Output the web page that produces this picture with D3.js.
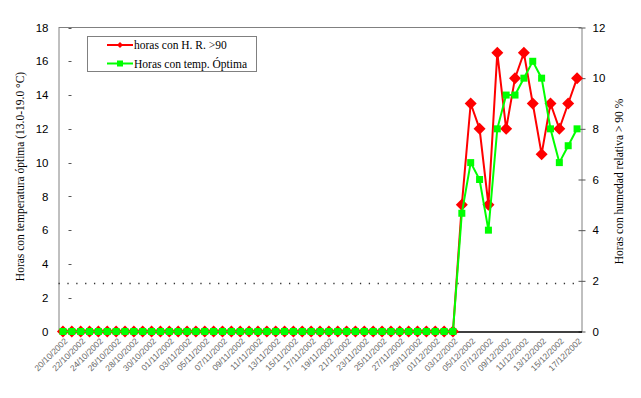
<!DOCTYPE html>
<html>
<head>
<meta charset="utf-8">
<script src="https://cdn.jsdelivr.net/npm/d3@7"></script>
<style>
  html, body { margin: 0; padding: 0; background: #fff; }
  svg { display: block; }
</style>
</head>
<body>
<svg id="chart" width="641" height="398"></svg>
<script>
// ---- data ----
const dates = [
  "20/10/2002","21/10/2002","22/10/2002","23/10/2002","24/10/2002","25/10/2002","26/10/2002","27/10/2002",
  "28/10/2002","29/10/2002","30/10/2002","31/10/2002","01/11/2002","02/11/2002","03/11/2002","04/11/2002",
  "05/11/2002","06/11/2002","07/11/2002","08/11/2002","09/11/2002","10/11/2002","11/11/2002","12/11/2002",
  "13/11/2002","14/11/2002","15/11/2002","16/11/2002","17/11/2002","18/11/2002","19/11/2002","20/11/2002",
  "21/11/2002","22/11/2002","23/11/2002","24/11/2002","25/11/2002","26/11/2002","27/11/2002","28/11/2002",
  "29/11/2002","30/11/2002","01/12/2002","02/12/2002","03/12/2002","04/12/2002","05/12/2002","06/12/2002",
  "07/12/2002","08/12/2002","09/12/2002","10/12/2002","11/12/2002","12/12/2002","13/12/2002","14/12/2002",
  "15/12/2002","16/12/2002","17/12/2002"
];
// Horas con H.R. > 90 (right axis)
const hrValues = [
  0,0,0,0,0,0,0,0,0,0,0,0,0,0,0,0,0,0,0,0,0,0,0,0,0,0,0,0,0,0,0,0,0,0,0,0,0,0,0,0,0,0,0,0,0,
  5,9,8,5,11,8,10,11,9,7,9,8,9,10
];
// Horas con temperatura óptima (left axis)
const tempValues = [
  0,0,0,0,0,0,0,0,0,0,0,0,0,0,0,0,0,0,0,0,0,0,0,0,0,0,0,0,0,0,0,0,0,0,0,0,0,0,0,0,0,0,0,0,0,
  7,10,9,6,12,14,14,15,16,15,12,10,11,12
];
const leftTicks = [0,2,4,6,8,10,12,14,16,18];
const rightTicks = [0,2,4,6,8,10,12];
const referenceLevel = 2.85; // dotted reference line (left axis units)
const seriesNames = ["horas con H. R. >90", "Horas con temp. Óptima"];
const leftTitle = "Horas con temperatura óptima (13.0-19.0 °C)";
const rightTitle = "Horas con humedad relativa > 90 %";

// ---- layout ----
const svg = d3.select("#chart");
const L = 58.5, R = 581.5, T = 27.5, B = 331.5;
const x = d3.scaleBand().domain(dates).range([L, R]).padding(0);
const cx = d => x(d) + x.bandwidth() / 2;
const yL = d3.scaleLinear().domain([0, 18]).range([B, T]);
const yR = d3.scaleLinear().domain([0, 12]).range([B, T]);
const RED = "#ff0000", GREEN = "#00ff00", GRAY = "#808080";
const numFont = "'Liberation Sans', Arial, sans-serif";
const serif = "'Liberation Serif', 'Times New Roman', serif";

svg.append("rect").attr("width", 641).attr("height", 398).attr("fill", "#fff");

// frame: top border
svg.append("line").attr("x1", L).attr("x2", R).attr("y1", T).attr("y2", T)
  .attr("stroke", GRAY).attr("stroke-width", 1);

// left axis
const leftAxis = svg.append("g").attr("transform", `translate(${L},0)`)
  .call(d3.axisLeft(yL).tickValues(leftTicks).tickSize(0).tickPadding(10).tickFormat(d3.format("d")));
leftAxis.select(".domain").attr("stroke", GRAY);
leftAxis.selectAll("text").attr("font-family", numFont).attr("font-size", 11.5).attr("fill", "#000");
// small detached tick dashes of the left axis
svg.append("g").selectAll("line").data(leftTicks).join("line")
  .attr("x1", L + 10).attr("x2", L + 13)
  .attr("y1", d => Math.round(yL(d)) + 0.5).attr("y2", d => Math.round(yL(d)) + 0.5)
  .attr("stroke", "#555").attr("stroke-width", 1);

// right axis
const rightAxis = svg.append("g").attr("transform", `translate(${R},0)`)
  .call(d3.axisRight(yR).tickValues(rightTicks).tickSizeInner(4).tickSizeOuter(0).tickPadding(7).tickFormat(d3.format("d")));
rightAxis.select(".domain").attr("stroke", GRAY);
rightAxis.selectAll(".tick line").attr("stroke", "#555").attr("x1", -3);
rightAxis.selectAll("text").attr("font-family", numFont).attr("font-size", 11.5).attr("fill", "#000");

// dotted reference line
svg.append("line")
  .attr("x1", L).attr("x2", R)
  .attr("y1", Math.round(yL(referenceLevel)) + 0.5).attr("y2", Math.round(yL(referenceLevel)) + 0.5)
  .attr("stroke", "#333").attr("stroke-width", 1.3)
  .attr("stroke-dasharray", `1.3,${x.bandwidth() - 1.3}`);

// bottom axis (black)
const bottomAxis = svg.append("g").attr("transform", `translate(0,${B})`)
  .call(d3.axisBottom(x).tickValues(dates.filter((d, i) => i % 2 === 0)).tickSize(0).tickPadding(0));
bottomAxis.select(".domain").attr("stroke", "#000").attr("stroke-width", 1.3);
bottomAxis.selectAll("text")
  .attr("font-family", numFont).attr("font-size", 8.5).attr("fill", "#666")
  .attr("text-anchor", "end")
  .attr("transform", "translate(3,8) rotate(-45)")
  .attr("dy", "0.35em").attr("y", 0).attr("x", 0);

// series lines
const lineR = d3.line().x((d, i) => cx(dates[i])).y(d => yR(d));
const lineL = d3.line().x((d, i) => cx(dates[i])).y(d => yL(d));

svg.append("path").datum(hrValues).attr("d", lineR)
  .attr("fill", "none").attr("stroke", RED).attr("stroke-width", 2);
const diamond = s => `M0,${-s}L${s},0L0,${s}L${-s},0Z`;
svg.append("g").selectAll("path").data(hrValues).join("path")
  .attr("transform", (d, i) => `translate(${cx(dates[i])},${yR(d)})`)
  .attr("d", diamond(6)).attr("fill", RED);

svg.append("path").datum(tempValues).attr("d", lineL)
  .attr("fill", "none").attr("stroke", GREEN).attr("stroke-width", 2);
svg.append("g").selectAll("rect").data(tempValues).join("rect")
  .attr("x", (d, i) => cx(dates[i]) - 3.5).attr("y", d => yL(d) - 3.5)
  .attr("width", 7).attr("height", 7).attr("fill", GREEN);

// axis titles
svg.append("text").attr("transform", `translate(24,${(T + B) / 2 - 3}) rotate(-90)`)
  .attr("text-anchor", "middle").attr("font-family", serif).attr("font-size", 11.5)
  .text(leftTitle);
svg.append("text").attr("transform", `translate(623,${(T + B) / 2 + 2}) rotate(-90)`)
  .attr("text-anchor", "middle").attr("font-family", serif).attr("font-size", 11.5)
  .text(rightTitle);

// legend
const lg = svg.append("g");
lg.append("rect").attr("x", 87.5).attr("y", 36.5).attr("width", 169).attr("height", 35)
  .attr("fill", "#fff").attr("stroke", GRAY).attr("stroke-width", 1);
const legendY = [45, 63.5];
lg.append("line").attr("x1", 107).attr("x2", 133).attr("y1", legendY[0]).attr("y2", legendY[0])
  .attr("stroke", RED).attr("stroke-width", 2);
lg.append("path").attr("transform", `translate(120,${legendY[0]})`).attr("d", diamond(3)).attr("fill", RED);
lg.append("line").attr("x1", 107).attr("x2", 133).attr("y1", legendY[1]).attr("y2", legendY[1])
  .attr("stroke", GREEN).attr("stroke-width", 2);
lg.append("rect").attr("x", 117).attr("y", legendY[1] - 3).attr("width", 6).attr("height", 6).attr("fill", GREEN);
lg.selectAll("text").data(seriesNames).join("text")
  .attr("x", 134).attr("y", (d, i) => legendY[i]).attr("dy", "0.35em")
  .attr("font-family", serif).attr("font-size", 11.5).text(d => d);
</script>
</body>
</html>
